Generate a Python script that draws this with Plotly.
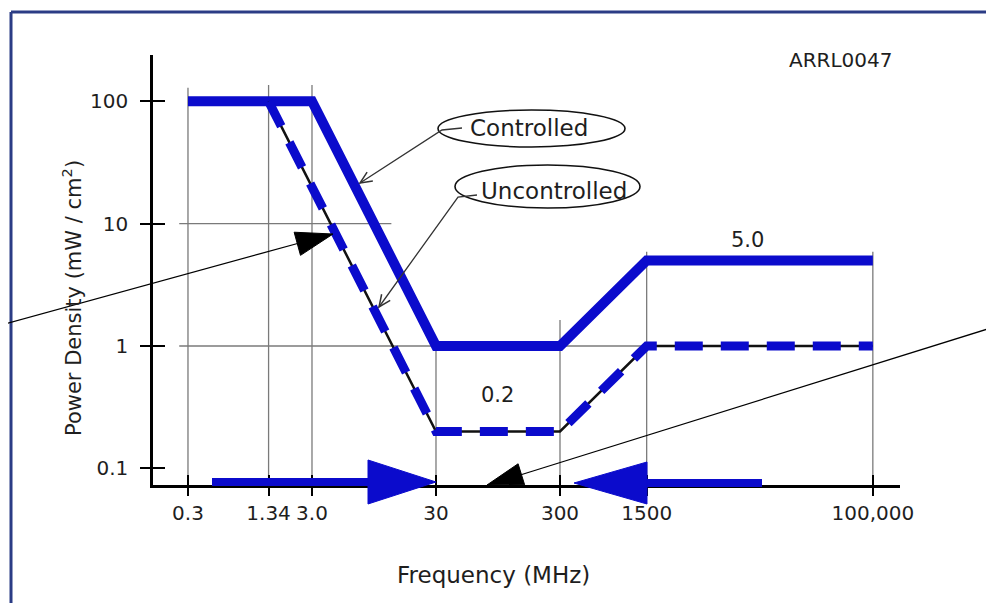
import math
import plotly.graph_objects as go

# ---------------- data ----------------
ctrl_freq = [0.3, 3.0, 30, 300, 1500, 100000]
ctrl_pd = [100, 100, 1.0, 1.0, 5.0, 5.0]

unc_freq = [1.34, 30, 300, 1500, 100000]
unc_pd = [100, 0.2, 0.2, 1.0, 1.0]

x_tickvals = [0.3, 1.34, 3.0, 30, 300, 1500, 100000]
x_ticktext = ["0.3", "1.34", "3.0", "30", "300", "1500", "100,000"]
y_tickvals = [0.1, 1, 10, 100]
y_ticktext = ["0.1", "1", "10", "100"]

# partial grid lines as drawn in the picture
vgrid_freq = [0.3, 1.34, 3.0, 30, 300, 1500, 100000]
vgrid_top = [129, 136, 136, 1.0, 1.63, 5.9, 5.9]
hgrid_level = [10, 1, 1]
hgrid_from = [0.255, 0.255, 300]
hgrid_to = [13.1, 30, 1500]

label_low = "0.2"
label_high = "5.0"

# ---------------- layout geometry ----------------
W, H = 994, 603
OFF = 8  # page offset of the figure inside the browser window
RL, RR, RT, RB = 153, 900, 55, 485  # plot area in window pixels
XR = [-0.805, 5.219]
YR = [-1.1365, 2.379]
BLUE = "#0b0bcc"
FONT = "DejaVu Sans"
TXT = "#1e1e1e"


def px(x):
    return (x - RL) / (RR - RL)


def py(y):
    return (RB - y) / (RB - RT)


def path(points, close=False):
    s = "M " + " L ".join(f"{px(a):.5f},{py(b):.5f}" for a, b in points)
    return s + (" Z" if close else "")


def tri(tip, tail, length, half_w):
    tx, ty = tip
    dx, dy = tx - tail[0], ty - tail[1]
    L = math.hypot(dx, dy)
    ux, uy = dx / L, dy / L
    bx, by = tx - ux * length, ty - uy * length
    nx, ny = -uy, ux
    return path([(tx, ty), (bx + nx * half_w, by + ny * half_w),
                 (bx - nx * half_w, by - ny * half_w)], close=True)


def vhead(tip, frm, length=13, ang=24):
    tx, ty = tip
    dx, dy = tx - frm[0], ty - frm[1]
    L = math.hypot(dx, dy)
    ux, uy = dx / L, dy / L
    pts = []
    for s in (1, -1):
        a = math.radians(ang * s)
        rx = ux * math.cos(a) - uy * math.sin(a)
        ry = ux * math.sin(a) + uy * math.cos(a)
        pts.append((tx - rx * length, ty - ry * length))
    return path([pts[0], (tx, ty), pts[1]])


fig = go.Figure()

# grid segments
gx, gy = [], []
ybot = 10 ** YR[0]
for f, top in zip(vgrid_freq, vgrid_top):
    gx += [f, f, None]
    gy += [ybot, top, None]
for lvl, a, b in zip(hgrid_level, hgrid_from, hgrid_to):
    gx += [a, b, None]
    gy += [lvl, lvl, None]
fig.add_trace(go.Scatter(x=gx, y=gy, mode="lines", line=dict(color="#7a7a7a", width=1.3),
                         hoverinfo="skip", showlegend=False))

# controlled (solid)
fig.add_trace(go.Scatter(x=ctrl_freq, y=ctrl_pd, mode="lines", name="Controlled",
                         line=dict(color=BLUE, width=10), showlegend=False))
# uncontrolled (black thin under blue dashes)
fig.add_trace(go.Scatter(x=unc_freq, y=unc_pd, mode="lines", name="Uncontrolled",
                         line=dict(color="#111111", width=2.5), showlegend=False, hoverinfo="skip"))
fig.add_trace(go.Scatter(x=unc_freq, y=unc_pd, mode="lines", name="Uncontrolled",
                         line=dict(color=BLUE, width=9, dash="28px,18px"), showlegend=False))

# dummy trace on overlay axes (inside tick marks)
fig.add_trace(go.Scatter(x=[], y=[], xaxis="x2", yaxis="y2", showlegend=False, hoverinfo="skip"))

tickfont = dict(family=FONT, size=20, color=TXT)
common_x = dict(type="log", range=XR, tickvals=x_tickvals, ticktext=x_ticktext,
                showgrid=False, zeroline=False)
common_y = dict(type="log", range=YR, tickvals=y_tickvals, ticktext=y_ticktext,
                showgrid=False, zeroline=False)

fig.update_layout(
    width=W, height=H,
    margin=dict(l=RL - OFF, r=W - (RR - OFF), t=RT - OFF, b=H - (RB - OFF), pad=0),
    paper_bgcolor="white", plot_bgcolor="white",
    xaxis=dict(**common_x, ticks="outside", ticklen=8, tickwidth=1.5, tickcolor="black",
               showline=True, linewidth=2.5, linecolor="black", tickfont=tickfont,
               ticklabelstandoff=0),
    yaxis=dict(**common_y, ticks="outside", ticklen=10, tickwidth=1.5, tickcolor="black",
               showline=True, linewidth=2.5, linecolor="black", tickfont=tickfont,
               ticklabelstandoff=8),
    xaxis2=dict(**common_x, overlaying="x", anchor="y2", ticks="inside", ticklen=10,
                tickwidth=1.5, tickcolor="black", showticklabels=False, showline=False),
    yaxis2=dict(**common_y, overlaying="y", anchor="x2", side="left", ticks="inside",
                ticklen=12, tickwidth=1.5, tickcolor="black", showticklabels=False,
                showline=False),
)

shapes = []
# outer frame (left and top edges)
shapes.append(dict(type="line", xref="paper", yref="paper", x0=px(11), x1=px(11), y0=py(12), y1=py(620),
                   line=dict(color="#2b3c85", width=3)))
shapes.append(dict(type="line", xref="paper", yref="paper", x0=px(11), x1=px(1010), y0=py(12), y1=py(12),
                   line=dict(color="#2b3c85", width=3)))

# ellipses
shapes.append(dict(type="circle", xref="paper", yref="paper", x0=px(438), x1=px(625), y0=py(147), y1=py(110),
                   line=dict(color="#111111", width=1.6)))
shapes.append(dict(type="circle", xref="paper", yref="paper", x0=px(455), x1=px(640), y0=py(208), y1=py(165),
                   line=dict(color="#111111", width=1.6)))

# pointer arrows from the ellipses
c_tip, c_bend = (360, 183), (442, 130)
shapes.append(dict(type="path", xref="paper", yref="paper", path=path([(462, 128), c_bend, c_tip]),
                   line=dict(color="#333333", width=1.3)))
shapes.append(dict(type="path", xref="paper", yref="paper", path=vhead(c_tip, c_bend),
                   line=dict(color="#333333", width=1.5)))
u_tip, u_bend = (379, 307), (458, 197)
shapes.append(dict(type="path", xref="paper", yref="paper", path=path([(477, 195), u_bend, u_tip]),
                   line=dict(color="#333333", width=1.3)))
shapes.append(dict(type="path", xref="paper", yref="paper", path=vhead(u_tip, u_bend),
                   line=dict(color="#333333", width=1.5)))

# thin black arrows with filled heads
b1_tail, b1_tip = (-10, 328), (333, 234)
shapes.append(dict(type="line", xref="paper", yref="paper", x0=px(b1_tail[0]), y0=py(b1_tail[1]),
                   x1=px(b1_tip[0] - 30), y1=py(b1_tip[1] + 8), line=dict(color="black", width=1.2)))
shapes.append(dict(type="path", xref="paper", yref="paper", path=tri(b1_tip, b1_tail, 37, 12),
                   fillcolor="black", line=dict(color="black", width=1)))
b2_tail, b2_tip = (1010, 322), (487, 485)
shapes.append(dict(type="line", xref="paper", yref="paper", x0=px(b2_tail[0]), y0=py(b2_tail[1]),
                   x1=px(b2_tip[0] + 30), y1=py(b2_tip[1] - 9), line=dict(color="black", width=1.2)))
shapes.append(dict(type="path", xref="paper", yref="paper", path=tri(b2_tip, b2_tail, 36, 11),
                   fillcolor="black", line=dict(color="black", width=1)))

# big blue arrows along the frequency axis
shapes.append(dict(type="line", xref="paper", yref="paper", x0=px(212), x1=px(372), y0=py(482), y1=py(482),
                   line=dict(color=BLUE, width=8)))
shapes.append(dict(type="path", xref="paper", yref="paper", path=tri((436, 482), (212, 482), 68, 22),
                   fillcolor=BLUE, line=dict(color=BLUE, width=1)))
shapes.append(dict(type="line", xref="paper", yref="paper", x0=px(762), x1=px(642), y0=py(483), y1=py(483),
                   line=dict(color=BLUE, width=8)))
shapes.append(dict(type="path", xref="paper", yref="paper", path=tri((574, 483), (762, 483), 73, 21),
                   fillcolor=BLUE, line=dict(color=BLUE, width=1)))
fig.update_layout(shapes=shapes)


def txt(x, y, text, size, **kw):
    d = dict(xref="paper", yref="paper", x=px(x), y=py(y), text=text, showarrow=False,
             xanchor="center", yanchor="middle", font=dict(family=FONT, size=size, color=TXT))
    d.update(kw)
    return d


ann = [
    txt(493, 575, "Frequency (MHz)", 23),
    txt(72, 298, "Power Density (mW / cm<sup>2</sup>)", 21, textangle=-90),
    txt(841, 60, "ARRL0047", 20),
    txt(529, 128, "Controlled", 23),
    txt(554, 191, "Uncontrolled", 23),
    dict(x=math.log10(math.sqrt(unc_freq[1] * unc_freq[2])), y=math.log10(unc_pd[1]), yshift=36,
         xanchor="center", yanchor="middle",
         text=label_low, showarrow=False, font=dict(family=FONT, size=21, color=TXT)),
    dict(x=math.log10(math.sqrt(ctrl_freq[4] * ctrl_freq[5])) - 0.1, y=math.log10(ctrl_pd[4]), yshift=20,
         xanchor="center", yanchor="middle",
         text=label_high, showarrow=False, font=dict(family=FONT, size=21, color=TXT)),
]
fig.update_layout(annotations=ann)

fig.write_html("out.html")
